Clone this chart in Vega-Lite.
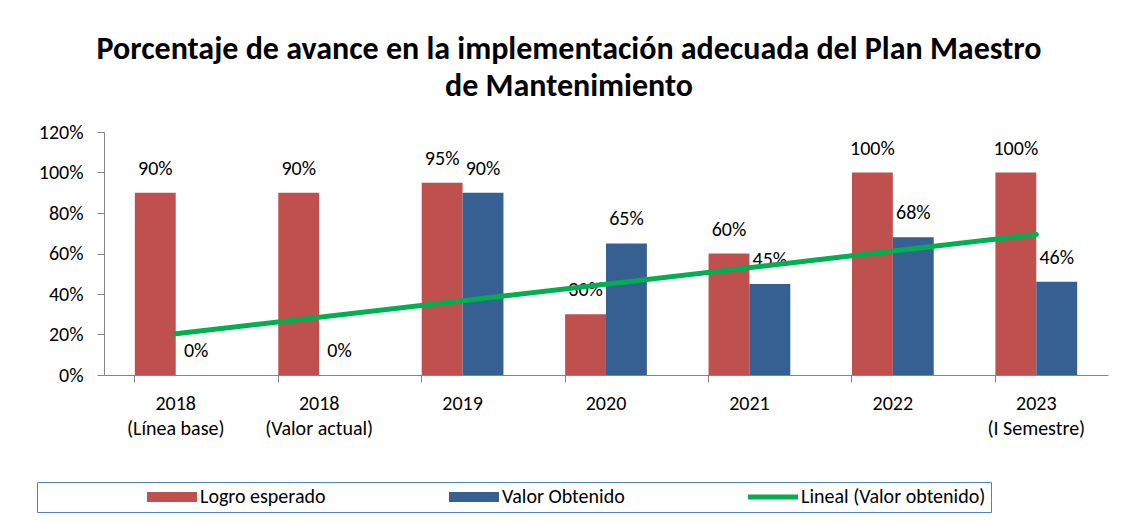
{
  "$schema": "https://vega.github.io/schema/vega-lite/v6.json",
  "width": 1004,
  "height": 243,
  "autosize": {"type": "none"},
  "padding": {"left": 104, "top": 132, "right": 13, "bottom": 149},
  "title": {
    "text": ["Porcentaje de avance en la implementación adecuada del Plan Maestro", "de Mantenimiento"],
    "font": "Carlito, Liberation Sans Narrow, Roboto",
    "fontSize": 32,
    "fontWeight": "bold",
    "color": "#000000",
    "lineHeight": 37,
    "anchor": "middle",
    "dx": -37,
    "offset": 19
  },
  "datasets": {
    "barras": [
      {"cat": "2018 (Línea base)", "idx": 1, "serie": "Logro esperado", "valor": 0.90},
      {"cat": "2018 (Línea base)", "idx": 1, "serie": "Valor Obtenido", "valor": 0},
      {"cat": "2018 (Valor actual)", "idx": 2, "serie": "Logro esperado", "valor": 0.90},
      {"cat": "2018 (Valor actual)", "idx": 2, "serie": "Valor Obtenido", "valor": 0},
      {"cat": "2019", "idx": 3, "serie": "Logro esperado", "valor": 0.95},
      {"cat": "2019", "idx": 3, "serie": "Valor Obtenido", "valor": 0.90},
      {"cat": "2020", "idx": 4, "serie": "Logro esperado", "valor": 0.30},
      {"cat": "2020", "idx": 4, "serie": "Valor Obtenido", "valor": 0.65},
      {"cat": "2021", "idx": 5, "serie": "Logro esperado", "valor": 0.60},
      {"cat": "2021", "idx": 5, "serie": "Valor Obtenido", "valor": 0.45},
      {"cat": "2022", "idx": 6, "serie": "Logro esperado", "valor": 1.00},
      {"cat": "2022", "idx": 6, "serie": "Valor Obtenido", "valor": 0.68},
      {"cat": "2023 (I Semestre)", "idx": 7, "serie": "Logro esperado", "valor": 1.00},
      {"cat": "2023 (I Semestre)", "idx": 7, "serie": "Valor Obtenido", "valor": 0.46}
    ]
  },
  "data": {"name": "barras"},
  "config": {
    "view": {"stroke": null},
    "font": "Carlito, Liberation Sans Narrow, Roboto",
    "axis": {"labelFont": "Carlito, Liberation Sans Narrow, Roboto", "labelFontSize": 20, "labelColor": "#000000", "domainColor": "#868686", "tickColor": "#868686", "grid": false, "title": null}
  },
  "encoding": {
    "x": {
      "field": "cat",
      "type": "nominal",
      "sort": null,
      "scale": {"paddingInner": 0.43, "paddingOuter": 0.215},
      "axis": {
        "labelAngle": 0,
        "bandPosition": 0,
        "tickSize": 7,
        "labelPadding": 11,
        "labelLineHeight": 25,
        "labelExpr": "length(datum.label) > 4 ? [substring(datum.label, 0, 4), substring(datum.label, 5)] : datum.label"
      }
    },
    "y": {
      "field": "valor",
      "type": "quantitative",
      "scale": {"domain": [0, 1.2], "nice": false},
      "axis": {"values": [0, 0.2, 0.4, 0.6, 0.8, 1.0, 1.2], "format": ".0%", "tickSize": 7, "labelPadding": 14}
    }
  },
  "layer": [
    {
      "mark": {"type": "bar"},
      "encoding": {
        "xOffset": {"field": "serie", "type": "nominal", "scale": {"paddingInner": 0, "domain": ["Logro esperado", "Valor Obtenido"]}},
        "color": {
          "field": "serie",
          "type": "nominal",
          "scale": {"domain": ["Logro esperado", "Valor Obtenido", "Lineal (Valor obtenido)"], "range": ["#C0504D", "#376092", "#00B050"]},
          "legend": {
            "title": null,
            "orient": "none",
            "direction": "horizontal",
            "legendX": -67,
            "legendY": 350,
            "padding": 5,
            "strokeColor": "#4F81BD",
            "fillColor": "#FFFFFF",
            "columnPadding": 18,
            "labelFont": "Carlito, Liberation Sans Narrow, Roboto",
            "labelFontSize": 20,
            "labelColor": "#000000",
            "labelOffset": 18,
            "labelLimit": 400,
            "symbolType": "M-5,-1H5V1H-5Z",
            "symbolSize": 100,
            "symbolOffset": 120,
            "symbolStrokeWidth": 0,
            "encode": {
              "symbols": {
                "update": {
                  "shape": {"signal": "datum.value === 'Lineal (Valor obtenido)' ? 'M-5,-0.5H5V0.5H-5Z' : 'M-5,-1H5V1H-5Z'"},
                  "fill": {"scale": "color", "field": "value"},
                  "stroke": {"value": "transparent"}
                }
              }
            }
          }
        }
      }
    },
    {
      "mark": {"type": "text", "fontSize": 20, "baseline": "middle", "dy": -24, "color": "#000000"},
      "encoding": {
        "xOffset": {"field": "serie", "type": "nominal"},
        "text": {"field": "valor", "type": "quantitative", "format": ".0%"},
        "detail": {"field": "serie"}
      }
    },
    {
      "transform": [
        {"filter": "datum.serie === 'Valor Obtenido'"},
        {"regression": "valor", "on": "idx", "method": "linear", "as": ["idx", "tendencia"]},
        {"lookup": "idx", "from": {"data": {"name": "barras"}, "key": "idx", "fields": ["cat"]}}
      ],
      "mark": {"type": "line", "color": "#00B050", "strokeWidth": 5, "strokeCap": "round"},
      "encoding": {
        "y": {"field": "tendencia", "type": "quantitative"}
      }
    }
  ]
}
